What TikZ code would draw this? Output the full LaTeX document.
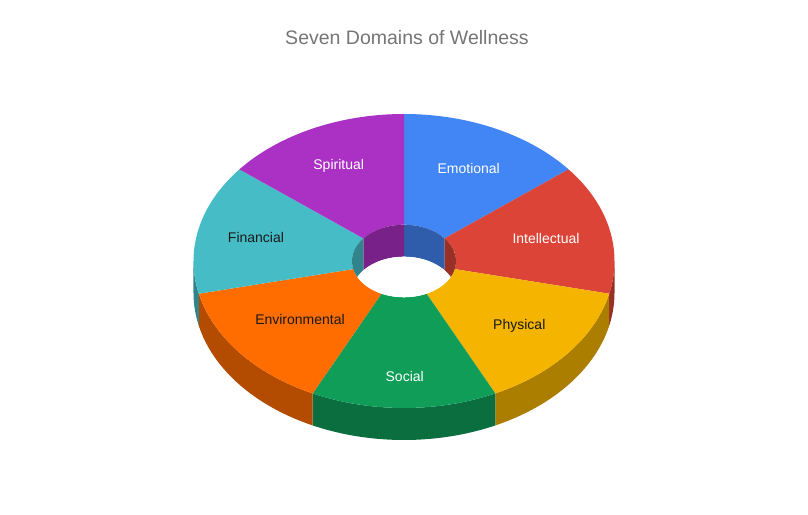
\documentclass[tikz,border=0pt]{standalone}
\usepackage{fontspec}
\setmainfont{Liberation Sans}
\definecolor{emoC}{HTML}{4285F4}
\definecolor{emoS}{HTML}{2F5DAB}
\definecolor{intC}{HTML}{DB4437}
\definecolor{intS}{HTML}{993026}
\definecolor{phyC}{HTML}{F4B400}
\definecolor{phyS}{HTML}{AB7E00}
\definecolor{socC}{HTML}{0F9D58}
\definecolor{socS}{HTML}{0A6E3E}
\definecolor{envC}{HTML}{FF6D00}
\definecolor{envS}{HTML}{B34C00}
\definecolor{finC}{HTML}{46BDC6}
\definecolor{finS}{HTML}{31848B}
\definecolor{spiC}{HTML}{AB30C4}
\definecolor{spiS}{HTML}{782289}
\definecolor{titleC}{HTML}{757575}
\begin{document}
\begin{tikzpicture}[x=1pt, y=1pt,
  lbl/.style={font=\fontsize{14}{14}\selectfont, inner sep=0pt},
  lblw/.style={lbl, text=white},
  lblb/.style={lbl, text=black!90}]

  \newcommand\RX{210.5}
  \newcommand\RY{147}
  \newcommand\IX{52}
  \newcommand\IY{36.3}
  \newcommand\Dep{32}
  % point on outer / inner rim at angle #1
  \newcommand\OP[1]{({\RX*cos(#1)}, {\RY*sin(#1)})}
  \newcommand\IP[1]{({\IX*cos(#1)}, {\IY*sin(#1)})}

  \useasboundingbox (-404, -253) rectangle (404, 261);

  \node[font=\fontsize{19.5}{19.5}\selectfont, text=titleC] (title) at (3, 223) {Seven Domains of Wellness};

  %% outer side walls (front half)
  \fill[intS] \OP{0} arc[start angle=0, end angle=-12.86, x radius=\RX, y radius=\RY] -- ++(0,-\Dep) arc[start angle=-12.86, end angle=0, x radius=\RX, y radius=\RY] -- cycle;
  \fill[phyS] \OP{-12.86} arc[start angle=-12.86, end angle=-64.29, x radius=\RX, y radius=\RY] -- ++(0,-\Dep) arc[start angle=-64.29, end angle=-12.86, x radius=\RX, y radius=\RY] -- cycle;
  \fill[socS] \OP{-64.29} arc[start angle=-64.29, end angle=-115.71, x radius=\RX, y radius=\RY] -- ++(0,-\Dep) arc[start angle=-115.71, end angle=-64.29, x radius=\RX, y radius=\RY] -- cycle;
  \fill[envS] \OP{-115.71} arc[start angle=-115.71, end angle=-167.14, x radius=\RX, y radius=\RY] -- ++(0,-\Dep) arc[start angle=-167.14, end angle=-115.71, x radius=\RX, y radius=\RY] -- cycle;
  \fill[finS] \OP{-167.14} arc[start angle=-167.14, end angle=-180, x radius=\RX, y radius=\RY] -- ++(0,-\Dep) arc[start angle=-180, end angle=-167.14, x radius=\RX, y radius=\RY] -- cycle;

  %% top faces
  \fill[emoC] \OP{90} arc[start angle=90, end angle=38.57, x radius=\RX, y radius=\RY] -- \IP{38.57} arc[start angle=38.57, end angle=90, x radius=\IX, y radius=\IY] -- cycle;
  \fill[intC] \OP{38.57} arc[start angle=38.57, end angle=-12.86, x radius=\RX, y radius=\RY] -- \IP{-12.86} arc[start angle=-12.86, end angle=38.57, x radius=\IX, y radius=\IY] -- cycle;
  \fill[phyC] \OP{-12.86} arc[start angle=-12.86, end angle=-64.29, x radius=\RX, y radius=\RY] -- \IP{-64.29} arc[start angle=-64.29, end angle=-12.86, x radius=\IX, y radius=\IY] -- cycle;
  \fill[socC] \OP{-64.29} arc[start angle=-64.29, end angle=-115.71, x radius=\RX, y radius=\RY] -- \IP{-115.71} arc[start angle=-115.71, end angle=-64.29, x radius=\IX, y radius=\IY] -- cycle;
  \fill[envC] \OP{-115.71} arc[start angle=-115.71, end angle=-167.14, x radius=\RX, y radius=\RY] -- \IP{-167.14} arc[start angle=-167.14, end angle=-115.71, x radius=\IX, y radius=\IY] -- cycle;
  \fill[finC] \OP{-167.14} arc[start angle=-167.14, end angle=-218.57, x radius=\RX, y radius=\RY] -- \IP{-218.57} arc[start angle=-218.57, end angle=-167.14, x radius=\IX, y radius=\IY] -- cycle;
  \fill[spiC] \OP{141.43} arc[start angle=141.43, end angle=90, x radius=\RX, y radius=\RY] -- \IP{90} arc[start angle=90, end angle=141.43, x radius=\IX, y radius=\IY] -- cycle;

  %% hole: inner walls (back half), then the floor opening
  \begin{scope}
    \clip (0,0) ellipse[x radius=\IX, y radius=\IY];
    \fill[emoS] \IP{90} arc[start angle=90, end angle=38.57, x radius=\IX, y radius=\IY] -- ++(0,-\Dep) arc[start angle=38.57, end angle=90, x radius=\IX, y radius=\IY] -- cycle;
    \fill[intS] \IP{38.57} arc[start angle=38.57, end angle=0, x radius=\IX, y radius=\IY] -- ++(0,-\Dep) arc[start angle=0, end angle=38.57, x radius=\IX, y radius=\IY] -- cycle;
    \fill[spiS] \IP{141.43} arc[start angle=141.43, end angle=90, x radius=\IX, y radius=\IY] -- ++(0,-\Dep) arc[start angle=90, end angle=141.43, x radius=\IX, y radius=\IY] -- cycle;
    \fill[finS] \IP{180} arc[start angle=180, end angle=141.43, x radius=\IX, y radius=\IY] -- ++(0,-\Dep) arc[start angle=141.43, end angle=180, x radius=\IX, y radius=\IY] -- cycle;
    \fill[white] (0,-\Dep) ellipse[x radius=\IX, y radius=\IY];
  \end{scope}

  %% labels
  \node[lblw] (emo) at (64.7, 93) {Emotional};
  \node[lblw] (int) at (142, 22.3) {Intellectual};
  \node[lblb] (phy) at (115.3, -65) {Physical};
  \node[lblw] (soc) at (0.7, -115.7) {Social};
  \node[lblb] (env) at (-104, -58) {Environmental};
  \node[lblb] (fin) at (-148, 23.3) {Financial};
  \node[lblw] (spi) at (-65.3, 95) {Spiritual};
\end{tikzpicture}
\end{document}
